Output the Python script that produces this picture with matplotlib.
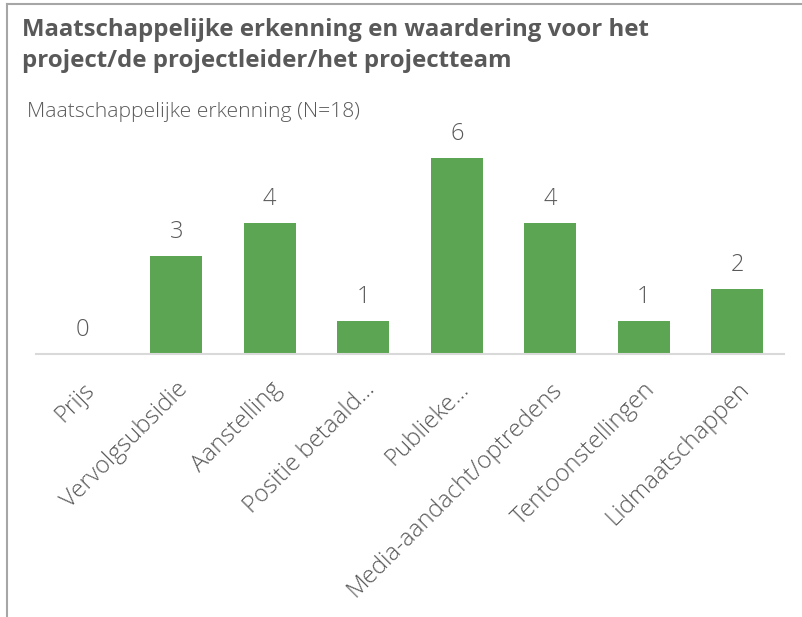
import matplotlib.pyplot as plt
from matplotlib import font_manager as fm
from matplotlib.lines import Line2D

# Data
categories = ['Prijs', 'Vervolgsubsidie', 'Aanstelling', 'Positie betaald...',
              'Publieke...', 'Media-aandacht/optredens', 'Tentoonstellingen',
              'Lidmaatschappen']
counts = [0, 3, 4, 1, 6, 4, 1, 2]

title_lines = ['Maatschappelijke erkenning en waardering voor het',
               'project/de projectleider/het projectteam']
subtitle = 'Maatschappelijke erkenning (N=18)'

bar_color = '#5BA553'
text_color = '#595959'

plt.rcParams['font.family'] = ['Open Sans', 'DejaVu Sans']

# Open Sans Light (not the condensed one)
light_path = [f.fname for f in fm.fontManager.ttflist
              if f.fname.endswith('OpenSans-Light.ttf')]
if light_path:
    light = fm.FontProperties(fname=light_path[0])
else:
    light = fm.FontProperties(family='Open Sans')

fig = plt.figure(figsize=(8.02, 6.17), dpi=100)
W, H = 802, 617

# Axes placed in pixel terms: baseline at y=354, x from 36 to 784
ax = fig.add_axes([36 / W, (H - 354) / H, (784 - 36) / W, (354 - 125) / H])

x = range(len(categories))
ax.bar(x, counts, width=0.56, color=bar_color)
ax.set_xlim(-0.5, len(categories) - 0.5)
ax.set_ylim(0, 7)

# Value labels
for xi, v in zip(x, counts):
    ax.annotate(str(v), (xi, v), xytext=(0, 13), textcoords='offset points',
                ha='center', va='baseline', fontproperties=light,
                fontsize=17, color=text_color)

ax.set_yticks([])
ax.set_xticks(list(x))
ax.set_xticklabels(categories, rotation=45, ha='right', rotation_mode='anchor',
                   fontproperties=light, fontsize=17.3, color=text_color)
ax.tick_params(axis='x', length=0, pad=17)
for s in ['top', 'right', 'left']:
    ax.spines[s].set_visible(False)
ax.spines['bottom'].set_color('#D9D9D9')
ax.spines['bottom'].set_linewidth(1.5)

# Titles
fig.text(22 / W, 1 - 36 / H, title_lines[0], ha='left', va='baseline',
         fontsize=17.3, fontweight='bold', color=text_color)
fig.text(22 / W, 1 - 67 / H, title_lines[1], ha='left', va='baseline',
         fontsize=17.3, fontweight='bold', color=text_color)
fig.text(27 / W, 1 - 117 / H, subtitle, ha='left', va='baseline',
         fontproperties=light, fontsize=15.2, color=text_color)

# Chart frame (left and top edges)
fig.add_artist(Line2D([6.5 / W, 6.5 / W], [0, 1 - 3.5 / H], color='#A6A6A6',
                      linewidth=1.5, transform=fig.transFigure))
fig.add_artist(Line2D([6.5 / W, 1], [1 - 3.5 / H, 1 - 3.5 / H], color='#A6A6A6',
                      linewidth=1.5, transform=fig.transFigure))

fig.savefig('out.png', dpi=100, facecolor='white')
plt.close()
